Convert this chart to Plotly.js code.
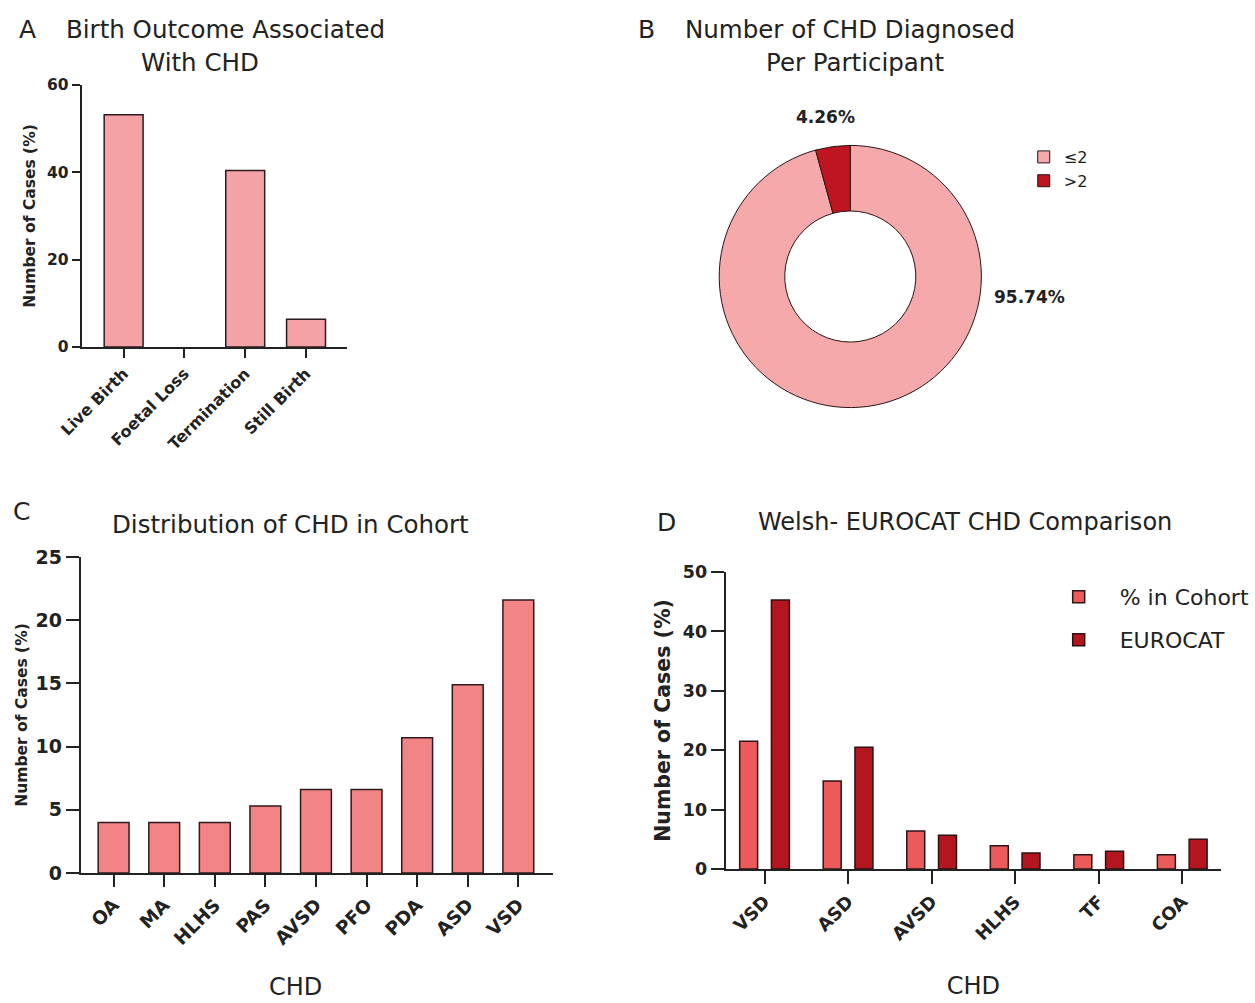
<!DOCTYPE html>
<html>
<head>
<meta charset="utf-8">
<script src="https://cdn.plot.ly/plotly-3.0.1.min.js"></script>
<style>
  html, body { margin: 0; padding: 0; background: #ffffff; }
  #chart { width: 1255px; height: 1003px; }
</style>
</head>
<body>
<div id="chart"></div>
<script>
// ---------------- DATA ----------------
// Panel A: birth outcome associated with CHD (%)
const outcomeCategories = ["Live Birth", "Foetal Loss", "Termination", "Still Birth"];
const outcomeValues = [53.19, 0, 40.43, 6.38];

// Panel B: number of CHD diagnosed per participant (%)
const diagLabels = ["≤2", ">2"];
const diagValues = [95.74, 4.26];

// Panel C: distribution of CHD in cohort (%)
const cohortCategories = ["OA", "MA", "HLHS", "PAS", "AVSD", "PFO", "PDA", "ASD", "VSD"];
const cohortValues = [4.0, 4.0, 4.0, 5.3, 6.6, 6.6, 10.7, 14.9, 21.6];

// Panel D: Welsh - EUROCAT comparison (%)
const compCategories = ["VSD", "ASD", "AVSD", "HLHS", "TF", "COA"];
const compSeriesNames = ["% in Cohort", "EUROCAT"];
const compCohort = [21.5, 14.8, 6.4, 3.9, 2.4, 2.4];
const compEurocat = [45.3, 20.5, 5.7, 2.7, 3.0, 5.0];

// ---------------- LAYOUT HELPERS ----------------
const W = 1255, H = 1003;
const px = v => v / W;          // pixel -> paper x
const py = v => 1 - v / H;      // pixel -> paper y
const FONT = "DejaVu Sans, Liberation Sans, Arial, sans-serif";
const INK = "#222222";

const total = diagValues.reduce((a, b) => a + b, 0);
const pct = v => (v / total * 100).toFixed(2) + "%";

// ---------------- TRACES ----------------
const traces = [
  {
    type: "bar", x: outcomeCategories, y: outcomeValues,
    xaxis: "x", yaxis: "y", width: 0.64, showlegend: false,
    marker: { color: "#F4A2A5", line: { color: "#2e1a22", width: outcomeValues.map(v => v > 0 ? 1.5 : 0) } }
  },
  {
    type: "pie", labels: diagLabels, values: diagValues, hole: 0.5,
    sort: false, direction: "clockwise", rotation: 0,
    textinfo: "none", legend: "legend",
    domain: { x: [px(721.5), px(984.5)], y: [py(408), py(145)] },
    marker: { colors: ["#F6A9AB", "#BE1520"], line: { color: "#2a1515", width: 1 } }
  },
  {
    type: "bar", x: cohortCategories, y: cohortValues,
    xaxis: "x2", yaxis: "y2", width: 0.61, showlegend: false,
    marker: { color: "#F28486", line: { color: "#2e1a1c", width: 1.5 } }
  },
  {
    type: "bar", name: compSeriesNames[0], x: compCategories, y: compCohort,
    xaxis: "x3", yaxis: "y3", width: 0.215, offset: -0.2975, legend: "legend2",
    marker: { color: "#EC5A5A", line: { color: "#2e1515", width: 1.5 } }
  },
  {
    type: "bar", name: compSeriesNames[1], x: compCategories, y: compEurocat,
    xaxis: "x3", yaxis: "y3", width: 0.215, offset: 0.0825, legend: "legend3",
    marker: { color: "#B3161F", line: { color: "#2e1010", width: 1.5 } }
  }
];

// ---------------- AXES ----------------
function xAxis(domain, range, anchor, size, ticklen, title, standoff) {
  const ax = {
    domain: domain, range: range, anchor: anchor,
    showline: true, linecolor: INK, linewidth: 2,
    ticks: "outside", ticklen: ticklen, tickwidth: 2, tickcolor: INK,
    tickangle: -45, showgrid: false, zeroline: false, fixedrange: true,
    tickfont: { family: FONT, size: size, color: INK, weight: "bold" }
  };
  if (title) ax.title = { text: title, standoff: standoff, font: { family: FONT, size: 24, color: INK } };
  return ax;
}
function yAxis(domain, range, dtick, anchor, size, ticklen, title, tsize, standoff) {
  return {
    domain: domain, range: range, anchor: anchor, dtick: dtick, tick0: 0,
    showline: true, linecolor: INK, linewidth: 2,
    ticks: "outside", ticklen: ticklen, tickwidth: 2, tickcolor: INK,
    showgrid: false, zeroline: false, fixedrange: true,
    tickfont: { family: FONT, size: size, color: INK, weight: "bold" },
    title: { text: title, standoff: standoff, font: { family: FONT, size: tsize, color: INK, weight: "bold" } }
  };
}

function ann(text, xpx, ypx, size, extra) {
  return Object.assign({
    text: text, x: px(xpx), y: py(ypx), xref: "paper", yref: "paper",
    xanchor: "center", yanchor: "middle", showarrow: false,
    font: { family: FONT, size: size, color: INK }
  }, extra || {});
}

const layout = {
  width: W, height: H,
  margin: { l: 0, r: 0, t: 0, b: 0, pad: 0 },
  paper_bgcolor: "#ffffff", plot_bgcolor: "#ffffff",
  font: { family: FONT, color: INK },
  barmode: "group",
  xaxis: xAxis([px(82), px(348)], [-0.689, 3.672], "y", 16, 9),
  yaxis: yAxis([py(347), py(85)], [0, 60], 20, "x", 15.5, 8, "Number of Cases (%)", 15.5, 8),
  xaxis2: xAxis([px(81), px(555)], [-0.65, 8.69], "y2", 18.5, 12),
  yaxis2: yAxis([py(873), py(557)], [0, 25], 5, "x2", 19, 13, "Number of Cases (%)", 15.5, 4),
  xaxis3: xAxis([px(728), px(1225)], [-0.465, 5.465], "y3", 18, 13, "CHD", 34),
  yaxis3: yAxis([py(869), py(572)], [0, 50], 10, "x3", 17.5, 13, "Number of Cases (%)", 20.5, 7),
  legend: {
    x: px(1027), y: py(140), xanchor: "left", yanchor: "top",
    bgcolor: "rgba(0,0,0,0)", font: { family: FONT, size: 16, color: INK }
  },
  legend2: {
    x: px(1041), y: py(576), xanchor: "left", yanchor: "top", itemwidth: 72,
    bgcolor: "rgba(0,0,0,0)", font: { family: FONT, size: 22, color: INK }
  },
  legend3: {
    x: px(1041), y: py(619), xanchor: "left", yanchor: "top", itemwidth: 72,
    bgcolor: "rgba(0,0,0,0)", font: { family: FONT, size: 22, color: INK }
  },
  annotations: [
    ann("A", 28, 30, 25),
    ann("Birth Outcome Associated", 226, 30, 24.5),
    ann("With CHD", 201, 63, 24.5),
    ann("B", 649, 30, 25),
    ann("Number of CHD Diagnosed", 853, 30, 24.5),
    ann("Per Participant", 858, 63, 24.5),
    ann("C", 22, 512, 25),
    ann("Distribution of CHD in Cohort", 291, 524, 24.5),
    ann("CHD", 296, 987, 24),
    ann("D", 669, 522, 25),
    ann("Welsh- EUROCAT CHD Comparison", 968, 522, 24),
    ann(pct(diagValues[1]), 828, 117, 17, { font: { family: FONT, size: 17, color: INK, weight: "bold" } }),
    ann(pct(diagValues[0]), 1033, 297, 17, { font: { family: FONT, size: 17, color: INK, weight: "bold" } })
  ]
};

Plotly.newPlot("chart", traces, layout, { displayModeBar: false, staticPlot: true });
</script>
</body>
</html>
